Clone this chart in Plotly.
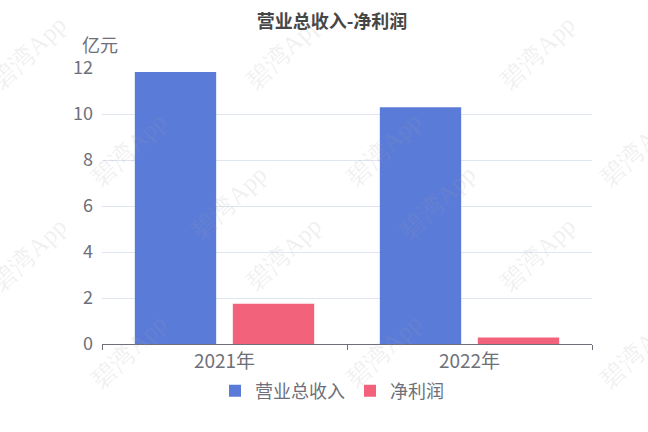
import plotly.graph_objects as go

years = ["2021年", "2022年"]
revenue = [11.83, 10.29]
net_profit = [1.75, 0.28]
series_names = ["营业总收入", "净利润"]
y_ticks = [0, 2, 4, 6, 8, 10, 12]

W, H = 648, 432
L, R, T, B = 102, 56, 68, 88
font_cjk = "Noto Sans CJK SC, Noto Sans, sans-serif"
grey = "#6e7079"
blue, red = "#5b7bd9", "#f2627b"

fig = go.Figure()
fig.add_trace(go.Bar(x=years, y=revenue, name=series_names[0],
                     marker=dict(color=blue, line=dict(width=0))))
fig.add_trace(go.Bar(x=years, y=net_profit, name=series_names[1],
                     marker=dict(color=red, line=dict(width=0))))


def px_to_paper(px, py):
    return (px - L) / (W - L - R), (H - B - py) / (H - T - B)


# watermark "碧湾App", repeated on a slanted lattice
marks = []
for k in range(-1, 4):
    bx, by = 83 + 100 * k, 105 + 97 * k
    for j in range(-2, 3):
        px = bx + 300 * j
        if -60 < px < W + 60:
            ax, ay = px_to_paper(px, by)
            marks.append(dict(x=ax, y=ay, xref="paper", yref="paper",
                              text="碧湾App", showarrow=False, textangle=-44,
                              font=dict(family="Liberation Serif, DejaVu Serif, serif",
                                        size=25, color="rgba(160,160,160,0.17)")))

unit_x, unit_y = px_to_paper(100, 44)
marks.append(dict(x=unit_x, y=unit_y, xref="paper", yref="paper", text="亿元",
                  showarrow=False, xanchor="center", yanchor="middle",
                  font=dict(family=font_cjk, size=18, color=grey)))

lx, ly = px_to_paper(332, 391)

fig.update_layout(
    width=W, height=H,
    margin=dict(l=L, r=R, t=T, b=B, autoexpand=False),
    paper_bgcolor="white", plot_bgcolor="white",
    title=dict(text="<b>营业总收入-净利润</b>", x=332 / W, xanchor="center",
               y=1 - 22 / H, yanchor="middle", xref="container", yref="container",
               font=dict(family=font_cjk, size=18, color="#464646")),
    barmode="group", bargap=0.2, bargroupgap=0.17,
    showlegend=True,
    legend=dict(orientation="h", x=lx, xanchor="center",
                y=ly, yanchor="middle",
                font=dict(family=font_cjk, size=18, color=grey),
                itemsizing="constant", itemwidth=30, tracegroupgap=0),
    xaxis=dict(showline=True, linecolor=grey, linewidth=1, ticks="outside",
               tickson="boundaries", ticklen=5, tickcolor=grey,
               tickfont=dict(family=font_cjk, size=19, color=grey),
               showgrid=False, fixedrange=True, automargin=False),
    yaxis=dict(range=[0, 12], tickvals=y_ticks, showline=False, ticks="",
               gridcolor="#e0e6f1", gridwidth=1, zeroline=False,
               tickfont=dict(family=font_cjk, size=18, color=grey),
               ticklabelstandoff=8, fixedrange=True, automargin=False),
    annotations=marks,
    hovermode=False,
)

fig.write_html("out.html", config={"displayModeBar": False},
               post_script="document.body.style.margin='0';")
